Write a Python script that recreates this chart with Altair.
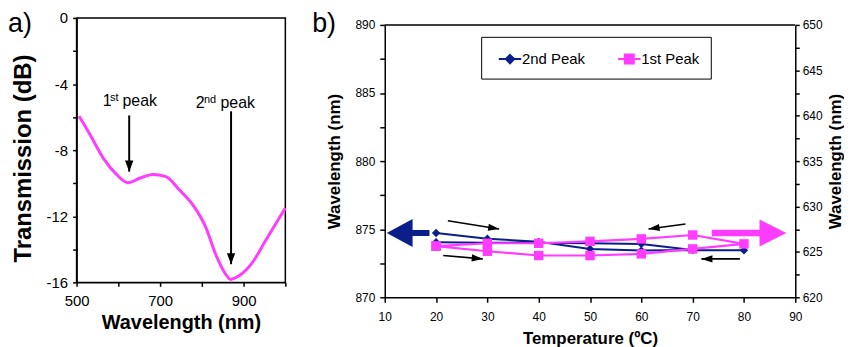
import altair as alt
import pandas as pd

FONT = "Liberation Sans"
NAVY = "#0a1f8a"
MAGENTA = "#ff3cff"

# ---------------- Panel a data ----------------
WAVELENGTH = [506, 532, 563, 595, 623, 651, 683, 714, 746, 778, 810, 833, 857, 869, 889, 921, 952, 976, 1000]
TRANSMISSION = [-5.95, -7.05, -8.45, -9.45, -9.97, -9.7, -9.47, -9.6, -10.4, -11.3, -12.7, -14.3, -15.5, -15.82,
                -15.6, -14.8, -13.5, -12.5, -11.5]

PEAK_WL = [626, 870]            # arrow positions (nm)
PEAK_ARROW_FROM = [-5.9, -5.65]  # dB
PEAK_ARROW_TO = [-9.3, -14.9]    # dB
PEAK_LABEL_Y = [-5.31, -5.46]
PEAK_NUM = ["1", "2"]
PEAK_SUP = ["st", "nd"]
PEAK_WORD = ["peak", "peak"]
NUM_DX = [-26.7, -35.6]
SUP_DX = [-19.3, -27.3]
WORD_DX = [-6.7, -10.6]

# ---------------- Panel b data ----------------
TEMP = [20, 30, 40, 50, 60, 70, 80, 70, 60, 50, 40, 30, 20]
PEAK2 = [874.72, 874.30, 874.07, 873.55, 873.43, 873.48, 873.45, 873.48, 873.92, 873.97, 874.00, 874.00, 874.05]
PEAK1 = [625.64, 625.07, 624.60, 624.60, 624.78, 625.33, 625.88, 626.86, 626.43, 626.16, 625.95, 625.95, 625.64]
SERIES = ["2nd Peak", "1st Peak"]

T_DOMAIN = [10, 90]
L_DOMAIN = [870, 890]
R_DOMAIN = [620, 650]

ARR_T0 = [22.3, 21.4, 68.6, 79.2]
ARR_W0 = [875.62, 873.07, 875.38, 872.82]
ARR_T1 = [32.3, 29.1, 61.4, 71.7]
ARR_W1 = [875.01, 872.82, 875.01, 872.82]
ARR_ANG = [9, 5, 172, 180]

BIG_LEFT = {"T": [10], "wl": [874.72]}
BIG_RIGHT = {"T": [90], "wl": [627.08]}

# shapes
HEAD_DOWN = "M0,0L-0.7,-1.85L0.7,-1.85Z"
HEAD_RIGHT = "M0,0L-1.85,-0.6L-1.85,0.6Z"
NAVY_ARROW = "M0.143,0L2,-1L2,-0.214L3.214,-0.214L3.214,0.214L2,0.214L2,1Z"
MAG_ARROW = "M-0.643,0L-2.571,-0.964L-2.571,-0.236L-6,-0.236L-6,0.236L-2.571,0.236L-2.571,0.964Z"
LEG_DIAMOND = "M-1.13,0L1.13,0M0,-0.42L0.42,0L0,0.42L-0.42,0Z"
LEG_SQUARE = "M-1.13,0L1.13,0M-0.45,-0.45L0.45,-0.45L0.45,0.45L-0.45,0.45Z"

# ================= Panel a =================
A_H = 266
xa = alt.X("wl:Q", scale=alt.Scale(domain=[500, 1000], nice=False, zero=False),
           axis=alt.Axis(values=list(range(500, 1001, 100)),
                         labelExpr="datum.value % 200 == 100 ? datum.label : ''",
                         title="Wavelength (nm)", titleFontSize=20, titleFontWeight="bold",
                         labelFontSize=15, tickSize=4, labelPadding=7, titlePadding=4,
                         labelFlush=False, labelOverlap=False, domainWidth=1.5, tickWidth=1.5))
ya = alt.Y("db:Q", scale=alt.Scale(domain=[-16, 0], nice=False, zero=False),
           axis=alt.Axis(values=list(range(-16, 1, 2)),
                         labelExpr="datum.value % 4 == 0 ? '' + datum.value : ''",
                         title="Transmission (dB)", titleFontSize=24, titleFontWeight="bold",
                         titleY=A_H / 2 + 8,
                         labelFontSize=15, tickSize=4, labelPadding=5, titlePadding=11,
                         labelFlush=False, labelOverlap=False, domainWidth=1.5, tickWidth=1.5))

df_a = pd.DataFrame({"wl": WAVELENGTH, "db": TRANSMISSION})
curve = alt.Chart(df_a).mark_line(color=MAGENTA, strokeWidth=3, interpolate="monotone").encode(x=xa, y=ya)

df_arr_a = pd.DataFrame({"wl": PEAK_WL, "db": PEAK_ARROW_FROM, "db2": PEAK_ARROW_TO})
shafts_a = alt.Chart(df_arr_a).mark_rule(color="black", strokeWidth=2).encode(x=xa, y=ya, y2="db2:Q")
df_head_a = pd.DataFrame({"wl": PEAK_WL, "db": PEAK_ARROW_TO})
heads_a = alt.Chart(df_head_a).mark_point(shape=HEAD_DOWN, filled=True, size=144, color="black",
                                           opacity=1, strokeWidth=0).encode(x=xa, y=ya)

texts = []
for i in range(2):
    row = pd.DataFrame({"wl": [PEAK_WL[i]], "db": [PEAK_LABEL_Y[i]],
                        "n": [PEAK_NUM[i]], "s": [PEAK_SUP[i]], "w": [PEAK_WORD[i]]})
    texts.append(alt.Chart(row).mark_text(align="left", baseline="alphabetic", fontSize=16, font=FONT,
                                          dx=NUM_DX[i], color="black").encode(x=xa, y=ya, text="n:N"))
    texts.append(alt.Chart(row).mark_text(align="left", baseline="alphabetic", fontSize=11, font=FONT,
                                          dx=SUP_DX[i], dy=-5, color="black").encode(x=xa, y=ya, text="s:N"))
    texts.append(alt.Chart(row).mark_text(align="left", baseline="alphabetic", fontSize=16, font=FONT,
                                          dx=WORD_DX[i], color="black").encode(x=xa, y=ya, text="w:N"))

lab_a = alt.Chart(pd.DataFrame({"t": ["a)"]})).mark_text(
    align="left", baseline="top", fontSize=27, font=FONT, color="black").encode(
    text="t:N", x=alt.value(-69), y=alt.value(-7))

panel_a = alt.layer(curve, shafts_a, heads_a, *texts, lab_a).properties(width=210, height=A_H)

# ================= Panel b =================
B_H = 281   # view height; axes start 7px below the top so the plot sits lower than panel a
B_TOP = 7

xb = alt.X("T:Q", scale=alt.Scale(domain=T_DOMAIN, nice=False, zero=False),
           axis=alt.Axis(values=list(range(10, 91, 10)), title="Temperature (ºC)",
                         titleFontSize=17, titleFontWeight="bold", labelFontSize=12,
                         tickSize=5, labelPadding=9, titlePadding=8, labelFlush=False,
                         labelOverlap=False, domainWidth=1.5, tickWidth=1.5))
yl = alt.Y("wl:Q", scale=alt.Scale(domain=L_DOMAIN, range=[B_H, B_TOP], nice=False, zero=False),
           axis=alt.Axis(values=[870 + 2.5 * k for k in range(9)], orient="left",
                         labelExpr="datum.value % 5 == 0 ? '' + datum.value : ''",
                         title="Wavelength (nm)", titleFontSize=17, titleFontWeight="bold",
                         labelFontSize=12, tickSize=5, labelPadding=5, titlePadding=11,
                         labelFlush=False, labelOverlap=False, domainWidth=1.5, tickWidth=1.5))
yr = alt.Y("wl:Q", scale=alt.Scale(domain=R_DOMAIN, range=[B_H, B_TOP], nice=False, zero=False),
           axis=alt.Axis(values=[620 + 2.5 * k for k in range(13)], orient="right",
                         labelExpr="datum.value % 5 == 0 ? '' + datum.value : ''",
                         title="Wavelength (nm)", titleFontSize=17, titleFontWeight="bold",
                         titleAngle=270, titleBaseline="top",
                         labelFontSize=12, tickSize=4, labelPadding=3, titlePadding=5,
                         labelFlush=False, labelOverlap=False, domainWidth=1.5, tickWidth=1.5))

df2 = pd.DataFrame({"T": TEMP, "wl": PEAK2, "i": list(range(len(TEMP)))})
df1 = pd.DataFrame({"T": TEMP, "wl": PEAK1, "i": list(range(len(TEMP)))})

frame_top = alt.Chart(pd.DataFrame({"T": [T_DOMAIN[0]], "T2": [T_DOMAIN[1]], "wl": [L_DOMAIN[1]]})).mark_rule(
    color="black", strokeWidth=1.5).encode(x=xb, x2="T2:Q", y=yl)

line2 = alt.Chart(df2).mark_line(color=NAVY, strokeWidth=2).encode(x=xb, y=yl, order="i:Q")
pts2 = alt.Chart(df2).mark_point(shape="diamond", filled=True, size=70, color=NAVY, opacity=1).encode(x=xb, y=yl)

df_arr_b = pd.DataFrame({"T": ARR_T0, "wl": ARR_W0, "T2": ARR_T1, "wl2": ARR_W1})
shafts_b = alt.Chart(df_arr_b).mark_rule(color="black", strokeWidth=1.6).encode(
    x=xb, y=yl, x2="T2:Q", y2="wl2:Q")
df_head_b = pd.DataFrame({"T": ARR_T1, "wl": ARR_W1, "ang": ARR_ANG})
heads_b = alt.Chart(df_head_b).mark_point(shape=HEAD_RIGHT, filled=True, size=144, color="black",
                                           opacity=1, strokeWidth=0).encode(
    x=xb, y=yl, angle=alt.Angle("ang:Q", scale=None))

big_left = alt.Chart(pd.DataFrame(BIG_LEFT)).mark_point(shape=NAVY_ARROW, filled=True, size=784,
                                                        color=NAVY, opacity=1, strokeWidth=0).encode(x=xb, y=yl)

leg = alt.Legend(orient="none", legendX=97, legendY=19, direction="horizontal", title=None,
                 fillColor="white", strokeColor="black", padding=11, symbolSize=400,
                 symbolStrokeWidth=2, symbolOffset=7, labelOffset=1, columnPadding=26,
                 labelFontSize=15, labelFont=FONT, labelColor="black", symbolOpacity=1)
legend_df = pd.DataFrame({"series": SERIES})
dummy = alt.Chart(legend_df).mark_point(filled=True, size=0, strokeWidth=2).encode(
    fill=alt.Fill("series:N", scale=alt.Scale(domain=SERIES, range=[NAVY, MAGENTA]), legend=leg),
    stroke=alt.Stroke("series:N", scale=alt.Scale(domain=SERIES, range=[NAVY, MAGENTA]), legend=leg),
    shape=alt.Shape("series:N", scale=alt.Scale(domain=SERIES, range=[LEG_DIAMOND, LEG_SQUARE]), legend=leg))

lab_b = alt.Chart(pd.DataFrame({"t": ["b)"]})).mark_text(
    align="left", baseline="top", fontSize=27, font=FONT, color="black").encode(
    text="t:N", x=alt.value(-73), y=alt.value(-7))

left_layer = alt.layer(frame_top, line2, pts2, shafts_b, heads_b, big_left, dummy, lab_b)

line1 = alt.Chart(df1).mark_line(color=MAGENTA, strokeWidth=2.2).encode(x=xb, y=yr, order="i:Q")
pts1 = alt.Chart(df1).mark_point(shape="square", filled=True, size=90, color=MAGENTA, opacity=1).encode(x=xb, y=yr)
big_right = alt.Chart(pd.DataFrame(BIG_RIGHT)).mark_point(shape=MAG_ARROW, filled=True, size=784,
                                                          color=MAGENTA, opacity=1, strokeWidth=0).encode(x=xb, y=yr)
right_layer = alt.layer(line1, pts1, big_right)

panel_b = alt.layer(left_layer, right_layer).resolve_scale(y="independent").properties(
    width=413, height=B_H, view=alt.ViewBackground(stroke="transparent"))

chart = alt.hconcat(panel_a, panel_b, spacing=19).resolve_legend(
    fill="independent", stroke="independent", shape="independent"
).properties(
    padding={"left": -1, "top": 0, "right": 0, "bottom": 0}
).configure_axis(
    grid=False, domainColor="black", tickColor="black", labelColor="black", titleColor="black",
    labelFont=FONT, titleFont=FONT
).configure_view(stroke="black", strokeWidth=1.5).configure_text(font=FONT)

chart.save("out.html", embed_options={"renderer": "svg", "actions": False})
